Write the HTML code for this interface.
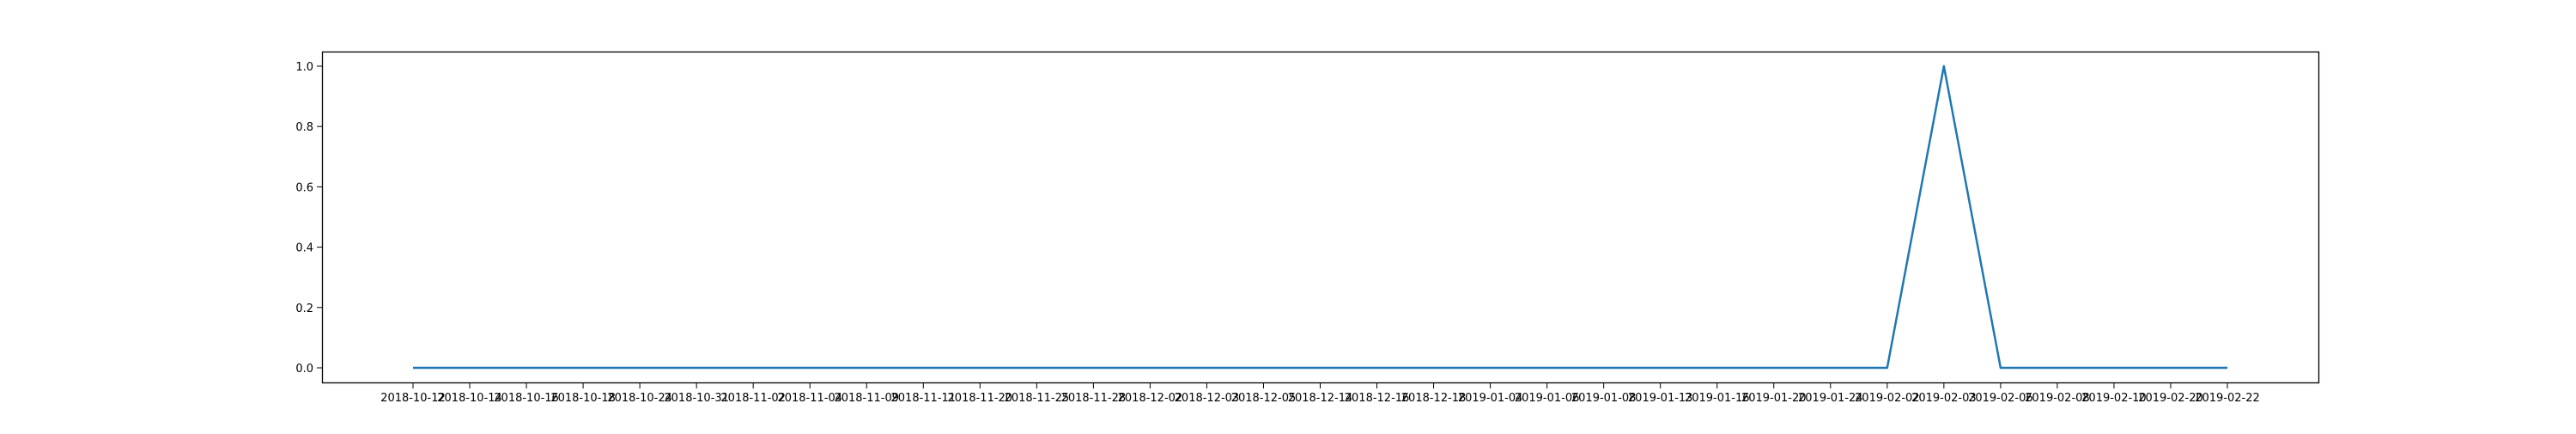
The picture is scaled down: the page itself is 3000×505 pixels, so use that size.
<!DOCTYPE html>
<html><head><meta charset="utf-8"><style>
html,body{margin:0;padding:0;background:#fff;}
svg text{font-family:"DejaVu Sans","Liberation Sans",sans-serif;font-size:13px;fill:#000;}
</style></head><body>
<svg id="chart" width="3000" height="500" xmlns="http://www.w3.org/2000/svg">
<rect width="3000" height="500" fill="#fff"/>
<g id="yaxis"></g>
<g id="xaxis"></g>
<path id="line" fill="none" stroke="#1f77b4" stroke-width="2.5" stroke-linejoin="round"/>
<rect x="375.5" y="60.5" width="2325" height="385" fill="none" stroke="#000" stroke-width="1.3"/>
</svg>
<script>
const categories=["2018-10-12","2018-10-14","2018-10-16","2018-10-18","2018-10-24","2018-10-31","2018-11-02","2018-11-04","2018-11-09","2018-11-11","2018-11-20","2018-11-25","2018-11-28","2018-12-02","2018-12-03","2018-12-05","2018-12-14","2018-12-16","2018-12-18","2019-01-04","2019-01-06","2019-01-08","2019-01-13","2019-01-16","2019-01-20","2019-01-24","2019-02-02","2019-02-03","2019-02-06","2019-02-08","2019-02-10","2019-02-20","2019-02-22"];
const values=[0,0,0,0,0,0,0,0,0,0,0,0,0,0,0,0,0,0,0,0,0,0,0,0,0,0,0,1,0,0,0,0,0];
const yTicks=[0.0,0.2,0.4,0.6,0.8,1.0];
const NS="http://www.w3.org/2000/svg";
const x0=481,x1=2594;
function xs(i){return x0+(x1-x0)*i/(categories.length-1);}
function ys(v){return 428-(428-77)*v;}
const ya=document.getElementById('yaxis'),xa=document.getElementById('xaxis');
yTicks.forEach(t=>{
  const l=document.createElementNS(NS,'line');
  
  
  l.setAttribute('x1',369);l.setAttribute('x2',375);l.setAttribute('y1',ys(t));l.setAttribute('y2',ys(t));l.setAttribute('stroke','#000');
  ya.appendChild(l);
  const tx=document.createElementNS(NS,'text');
  
  
  tx.setAttribute('x',365);tx.setAttribute('y',ys(t)+5);tx.setAttribute('text-anchor','end');
  tx.textContent=t.toFixed(1);ya.appendChild(tx);
});
categories.forEach((c,i)=>{
  const l=document.createElementNS(NS,'line');
  
  
  l.setAttribute('x1',xs(i));l.setAttribute('x2',xs(i));l.setAttribute('y1',446);l.setAttribute('y2',452);l.setAttribute('stroke','#000');
  xa.appendChild(l);
  const tx=document.createElementNS(NS,'text');
  
  
  tx.setAttribute('x',xs(i));tx.setAttribute('y',467);tx.setAttribute('text-anchor','middle');
  tx.textContent=c;xa.appendChild(tx);
});
document.getElementById('line').setAttribute('d',values.map((v,i)=>(i?'L':'M')+xs(i)+' '+ys(v)).join(' '));
</script>
</body></html>
